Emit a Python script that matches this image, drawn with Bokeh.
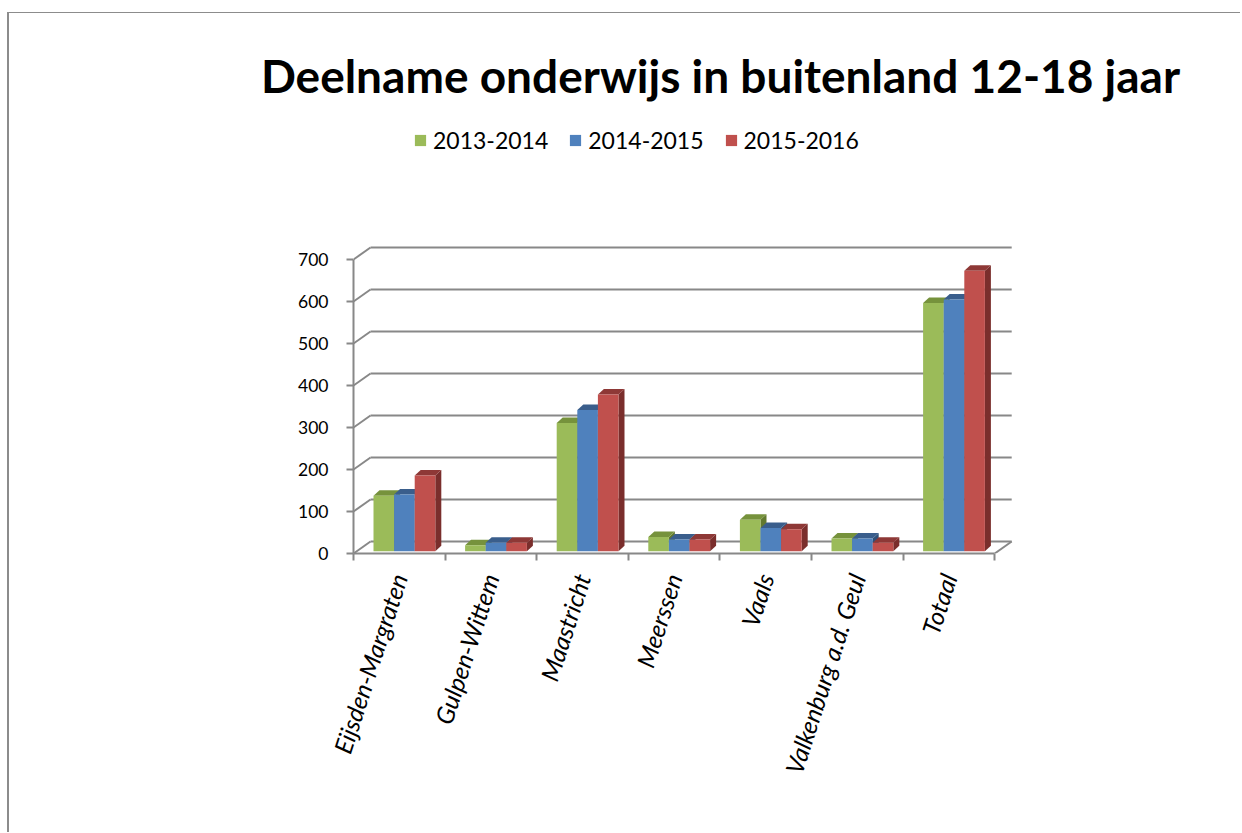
import math
from bokeh.plotting import figure
from bokeh.models import Range1d, FixedTicker, Legend, LegendItem
from bokeh.embed import file_html
from bokeh.resources import INLINE

# ---------------- data ----------------
title_text = "Deelname onderwijs in buitenland 12-18 jaar"
categories = ["Eijsden-Margraten", "Gulpen-Wittem", "Maastricht", "Meerssen",
              "Vaals", "Valkenburg a.d. Geul", "Totaal"]
series_names = ["2013-2014", "2014-2015", "2015-2016"]
values_2013_2014 = [132, 14, 305, 34, 75, 30, 591]
values_2014_2015 = [135, 20, 336, 28, 55, 30, 599]
values_2015_2016 = [180, 20, 373, 28, 52, 20, 668]
y_ticks = [0, 100, 200, 300, 400, 500, 600, 700]

series_values = [values_2013_2014, values_2014_2015, values_2015_2016]

# ---------------- style ----------------
front_colors = ["#9BBB59", "#4F81BD", "#C0504D"]
top_colors = ["#76923C", "#3A5E8C", "#8E3836"]
side_colors = ["#62792F", "#2F5079", "#7A2E2C"]
grid_color = "#888888"
FONT = "Lato"

W, H = 1233, 820
frame_left, frame_right, frame_top, frame_bottom = 344, 1078, 97, 540
px_per_cat = 91.6
px_per_unit = 0.42
x_end = (frame_right - frame_left) / px_per_cat
y_end = (frame_bottom - frame_top) / px_per_unit

wall_dx = 17 / px_per_cat
wall_dy = 12 / px_per_unit
base_dy = 2.3 / px_per_unit
top_dx = 6 / px_per_cat
top_dy = 5.5 / px_per_unit
bar_w = 20.6 / px_per_cat
group_left = 20 / px_per_cat

n = len(categories)

p = figure(width=W, height=H, x_range=Range1d(0, x_end), y_range=Range1d(0, y_end),
           output_backend="svg", toolbar_location=None,
           min_border_left=frame_left, min_border_right=W - frame_right,
           min_border_top=frame_top, min_border_bottom=H - frame_bottom,
           outline_line_color=None, background_fill_color="white",
           border_fill_color="white")
p.margin = (12, 0, 0, 7)
p.styles = {"border-top": "1px solid #8C8C8C", "border-left": "2px solid #8C8C8C"}
p.xgrid.visible = False
p.ygrid.visible = False

# title
p.title.text = title_text
p.title.text_font = FONT
p.title.text_font_size = "46px"
p.title.text_font_style = "bold"
p.title.text_color = "black"
p.title.align = "center"
p.title.standoff = 16

# back wall gridlines
p.segment(x0=[wall_dx] * len(y_ticks), x1=[n + wall_dx] * len(y_ticks),
          y0=[t + wall_dy for t in y_ticks], y1=[t + wall_dy for t in y_ticks],
          line_color=grid_color, line_width=2)
# left wall diagonals
p.segment(x0=[0] * len(y_ticks), x1=[wall_dx] * len(y_ticks),
          y0=y_ticks, y1=[t + wall_dy for t in y_ticks],
          line_color=grid_color, line_width=2)
# floor right edge
p.segment(x0=[n], x1=[n + wall_dx], y0=[0], y1=[wall_dy],
          line_color=grid_color, line_width=2)

# bars
legend_items = []
for k, vals in enumerate(series_values):
    lefts = [i + group_left + k * bar_w for i in range(n)]
    rights = [l + bar_w for l in lefts]
    bottoms = [base_dy] * n
    tops = [base_dy + v for v in vals]
    side_xs = [[r, r, r + top_dx, r + top_dx] for r in rights]
    side_ys = [[b, t, t + top_dy, b + top_dy] for b, t in zip(bottoms, tops)]
    top_xs = [[l, r, r + top_dx, l + top_dx] for l, r in zip(lefts, rights)]
    top_ys = [[t, t, t + top_dy, t + top_dy] for t in tops]
    p.patches(xs=side_xs, ys=side_ys, fill_color=side_colors[k], line_color=None)
    p.patches(xs=top_xs, ys=top_ys, fill_color=top_colors[k], line_color=None)
    r = p.quad(left=lefts, right=rights, bottom=bottoms, top=tops,
               fill_color=front_colors[k], line_color=None)
    legend_items.append(LegendItem(label=series_names[k], renderers=[r]))

# axes
xa = p.xaxis[0]
xa.ticker = FixedTicker(ticks=[i + 0.5 for i in range(n)], minor_ticks=list(range(n + 1)))
xa.major_label_overrides = {i + 0.5: c for i, c in enumerate(categories)}
xa.bounds = (0, n)
xa.axis_line_color = grid_color
xa.axis_line_width = 2
xa.major_tick_out = 0
xa.major_tick_in = 0
xa.minor_tick_out = 7
xa.minor_tick_in = 0
xa.minor_tick_line_color = grid_color
xa.minor_tick_line_width = 2
xa.major_label_orientation = math.radians(72)
xa.major_label_text_font = FONT
xa.major_label_text_font_size = "24.5px"
xa.major_label_text_font_style = "italic"
xa.major_label_text_color = "black"
xa.major_label_standoff = 14

ya = p.yaxis[0]
ya.ticker = FixedTicker(ticks=y_ticks, minor_ticks=[])
ya.bounds = (0, 700)
ya.axis_line_color = grid_color
ya.axis_line_width = 2
ya.major_tick_out = 7
ya.major_tick_in = 0
ya.major_tick_line_color = grid_color
ya.major_tick_line_width = 2
ya.minor_tick_out = 0
ya.minor_tick_in = 0
ya.major_label_text_font = FONT
ya.major_label_text_font_size = "17.5px"
ya.major_label_text_color = "black"
ya.major_label_standoff = 18

legend = Legend(items=legend_items, orientation="horizontal", location=(60, 399))
legend.padding = 0
legend.margin = 0
legend.border_line_color = None
legend.background_fill_alpha = 0
legend.glyph_width = 14
legend.glyph_height = 14
legend.label_standoff = 6
legend.spacing = 20
legend.label_text_font = FONT
legend.label_text_font_size = "23px"
legend.label_text_color = "black"
p.add_layout(legend)

open("out.html", "w").write(file_html(p, INLINE))
